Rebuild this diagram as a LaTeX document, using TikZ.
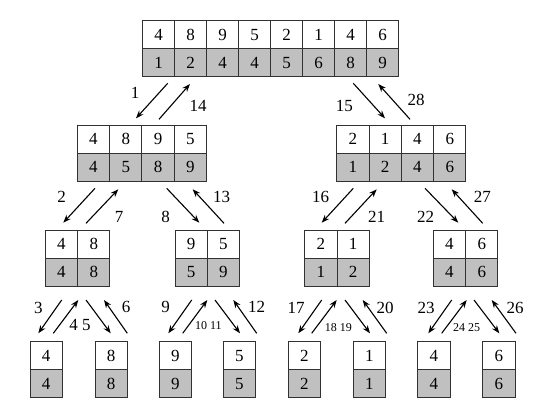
\documentclass[tikz,border=0pt]{standalone}
\usepackage{fontspec}
\setmainfont{Liberation Serif}
\usetikzlibrary{arrows.meta}
\definecolor{cellgray}{RGB}{192,192,192}
\definecolor{edgegray}{RGB}{50,50,50}
\tikzset{
  cellw/.style={draw=edgegray, line width=0.9pt, fill=white, minimum width=32.3pt, minimum height=28pt, inner sep=0pt, font=\fontsize{17}{19}\selectfont},
  cellg/.style={cellw, fill=cellgray},
  arr/.style={line width=1.1pt, -{Stealth[length=8pt,width=6pt]}},
  lbl/.style={inner sep=0pt, font=\fontsize{17}{19}\selectfont},
  slbl/.style={inner sep=0pt, font=\fontsize{12}{14}\selectfont},
}
\newcommand{\mkarr}[4]{%
  \foreach [count=\i] \a/\b in {#4} {
    \node[cellw] (#1-t\i) at ({#2+(\i-0.5)*32.3},{#3+14}) {\a};
    \node[cellg] (#1-b\i) at ({#2+(\i-0.5)*32.3},{#3+42}) {\b};
  }%
}
\begin{document}
\begin{tikzpicture}[x=1pt,y=-1pt]
\useasboundingbox (0,0) rectangle (539,405);
% arrays
\foreach [count=\i] \a/\b in {4/1,8/2,9/4,5/4,2/5,1/6,4/8,6/9} {
  \node[cellw,minimum width=32pt] (A-t\i) at ({142.7+(\i-0.5)*32},{20.7+14}) {\a};
  \node[cellg,minimum width=32pt] (A-b\i) at ({142.7+(\i-0.5)*32},{20.7+42}) {\b};
}
\mkarr{B}{77.3}{125}{4/4,8/5,9/8,5/9}
\mkarr{C}{336.7}{125}{2/1,1/2,4/4,6/6}
\mkarr{D}{45.3}{230}{4/4,8/8}
\mkarr{E}{175}{230}{9/5,5/9}
\mkarr{F}{304.7}{230}{2/1,1/2}
\mkarr{G}{433.3}{230}{4/4,6/6}
\mkarr{H}{30}{341.7}{4/4}
\mkarr{I}{95}{341.7}{8/8}
\mkarr{J}{159.3}{341.7}{9/9}
\mkarr{K}{223.3}{341.7}{5/5}
\mkarr{L}{288.3}{341.7}{2/2}
\mkarr{M}{353.3}{341.7}{1/1}
\mkarr{N}{417.7}{341.7}{4/4}
\mkarr{O}{482.7}{341.7}{6/6}
% level 1 arrows
\coordinate (a1s) at (167.7,83.3); \coordinate (a1e) at (136,118.3);
\coordinate (a14s) at (159,119.3); \coordinate (a14e) at (190,84);
\coordinate (a15s) at (353.3,83.3); \coordinate (a15e) at (385,118.3);
\coordinate (a28s) at (410,119.3); \coordinate (a28e) at (378.3,84);
% level 2 arrows
\coordinate (a2s) at (95,188.3); \coordinate (a2e) at (63.3,222.7);
\coordinate (a7s) at (86,223.3); \coordinate (a7e) at (118.3,189.3);
\coordinate (a8s) at (166.7,188.3); \coordinate (a8e) at (199.3,222.7);
\coordinate (a13s) at (224,223.3); \coordinate (a13e) at (192.7,189.3);
\coordinate (a16s) at (353.3,188.3); \coordinate (a16e) at (321.7,222.7);
\coordinate (a21s) at (345,223.3); \coordinate (a21e) at (376.7,189.3);
\coordinate (a22s) at (425,188.3); \coordinate (a22e) at (458.3,222.7);
\coordinate (a27s) at (482.7,223.3); \coordinate (a27e) at (451.7,189.3);
% level 3 arrows
\coordinate (a3s) at (61.7,300); \coordinate (a3e) at (38.3,333.3);
\coordinate (a4s) at (53.3,333.3); \coordinate (a4e) at (78.3,300);
\coordinate (a5s) at (86,300); \coordinate (a5e) at (110.7,333.3);
\coordinate (a6s) at (127.3,333.3); \coordinate (a6e) at (104,300);
\coordinate (a9s) at (191.7,300); \coordinate (a9e) at (168.3,333.3);
\coordinate (a10s) at (182.7,333.3); \coordinate (a10e) at (207.3,300);
\coordinate (a11s) at (215,300); \coordinate (a11e) at (240,333.3);
\coordinate (a12s) at (256.7,333.3); \coordinate (a12e) at (233.3,300);
\coordinate (a17s) at (321.7,300); \coordinate (a17e) at (298.3,333.3);
\coordinate (a18s) at (311.7,333.3); \coordinate (a18e) at (336.7,300);
\coordinate (a19s) at (345,300); \coordinate (a19e) at (370,333.3);
\coordinate (a20s) at (386.7,333.3); \coordinate (a20e) at (362.7,300);
\coordinate (a23s) at (451.7,300); \coordinate (a23e) at (428.3,333.3);
\coordinate (a24s) at (441.7,333.3); \coordinate (a24e) at (466.7,300);
\coordinate (a25s) at (474,300); \coordinate (a25e) at (499.3,333.3);
\coordinate (a26s) at (516,333.3); \coordinate (a26e) at (491.7,300);
\foreach \k in {1,14,15,28,2,7,8,13,16,21,22,27,3,4,5,6,9,10,11,12,17,18,19,20,23,24,25,26}
  \draw[arr] (a\k s) -- (a\k e);
% labels
\node[lbl] (l1) at (135,92.7) {1};
\node[lbl] (l14) at (198,106) {14};
\node[lbl] (l15) at (344.3,105.7) {15};
\node[lbl] (l28) at (416,100) {28};
\node[lbl] (l2) at (61.7,197.3) {2};
\node[lbl] (l7) at (119,217.3) {7};
\node[lbl] (l8) at (165.7,217.3) {8};
\node[lbl] (l13) at (221.7,196.7) {13};
\node[lbl] (l16) at (320.7,197) {16};
\node[lbl] (l21) at (376.7,217.3) {21};
\node[lbl] (l22) at (425.7,217.3) {22};
\node[lbl] (l27) at (482.3,197) {27};
\node[lbl] (l3) at (38.3,308.3) {3};
\node[lbl] (l45) at (80,325) {4 5};
\node[lbl] (l6) at (126,307.3) {6};
\node[lbl] (l9) at (165.7,307.3) {9};
\node[slbl] (l1011) at (208.3,326) {10 11};
\node[lbl] (l12) at (256.7,307) {12};
\node[lbl] (l17) at (296,308.3) {17};
\node[slbl] (l1819) at (338.3,327.7) {18 19};
\node[lbl] (l20) at (385,307.7) {20};
\node[lbl] (l23) at (426,308) {23};
\node[slbl] (l2425) at (466.7,327.7) {24 25};
\node[lbl] (l26) at (515,307.7) {26};
\end{tikzpicture}
\end{document}
